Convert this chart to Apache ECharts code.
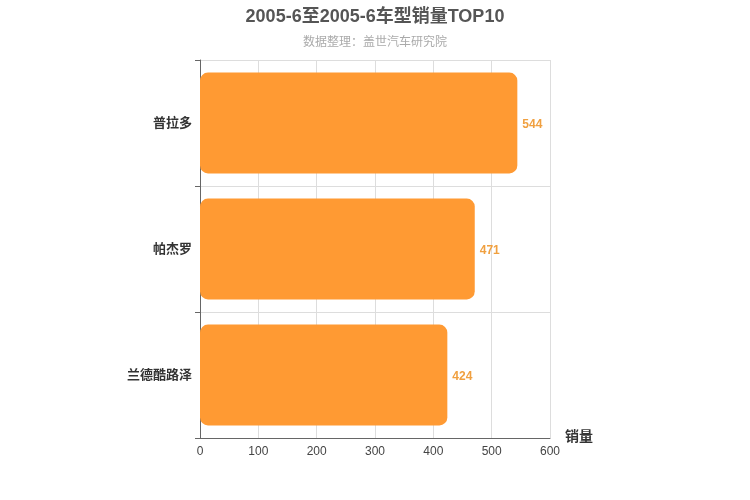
<!DOCTYPE html>
<html>
<head>
<meta charset="utf-8">
<script src="https://cdn.jsdelivr.net/npm/echarts@6/dist/echarts.min.js"></script>
<style>
  html, body { margin: 0; padding: 0; background: #fff; }
  #main { width: 750px; height: 500px; }
</style>
</head>
<body>
<div id="main"></div>
<script>
// 车型 (从下到上)
var models = ['兰德酷路泽', '帕杰罗', '普拉多'];
// 销量
var sales = [424, 471, 544];

var myChart = echarts.init(document.getElementById('main'));
var font = 'Arial, "Noto Sans CJK SC", sans-serif';

var option = {
    textStyle: { fontFamily: font },
    title: {
        text: '2005-6至2005-6车型销量TOP10',
        subtext: '数据整理：盖世汽车研究院',
        left: 'center',
        top: 3,
        itemGap: 11,
        textStyle: { fontSize: 18, fontWeight: 'bold', color: '#555', fontFamily: font },
        subtextStyle: { fontSize: 12, color: '#aaa', fontFamily: font }
    },
    grid: {
        left: 200,
        right: 200,
        top: 60,
        bottom: 62
    },
    xAxis: {
        type: 'value',
        min: 0,
        max: 600,
        interval: 100,
        name: '销量',
        nameLocation: 'end',
        nameGap: 15,
        nameTextStyle: { fontSize: 14, fontWeight: 'bold', color: '#333', verticalAlign: 'top', padding: [-8, 0, 0, 0] },
        axisLine: { show: true, lineStyle: { color: '#666' } },
        axisTick: { show: false },
        axisLabel: { color: '#444', fontSize: 12, margin: 8 },
        splitLine: { show: true, lineStyle: { color: '#ddd' } }
    },
    yAxis: {
        type: 'category',
        data: models,
        axisLine: { show: true, lineStyle: { color: '#666' } },
        axisTick: { show: true, length: 5, lineStyle: { color: '#666' } },
        axisLabel: { color: '#333', fontSize: 13, fontWeight: 'bold', margin: 8 },
        splitLine: { show: true, lineStyle: { color: '#ddd' } }
    },
    series: [
        {
            name: '销量',
            type: 'bar',
            data: sales,
            barCategoryGap: '20%',
            itemStyle: {
                color: '#FF9A33',
                borderRadius: 8
            },
            label: {
                show: true,
                position: 'right',
                color: '#F0A040',
                fontWeight: 'bold',
                fontSize: 12,
                distance: 5,
                offset: [0, 2]
            }
        }
    ]
};

myChart.setOption(option);
window.addEventListener('resize', function () { myChart.resize(); });
</script>
</body>
</html>
